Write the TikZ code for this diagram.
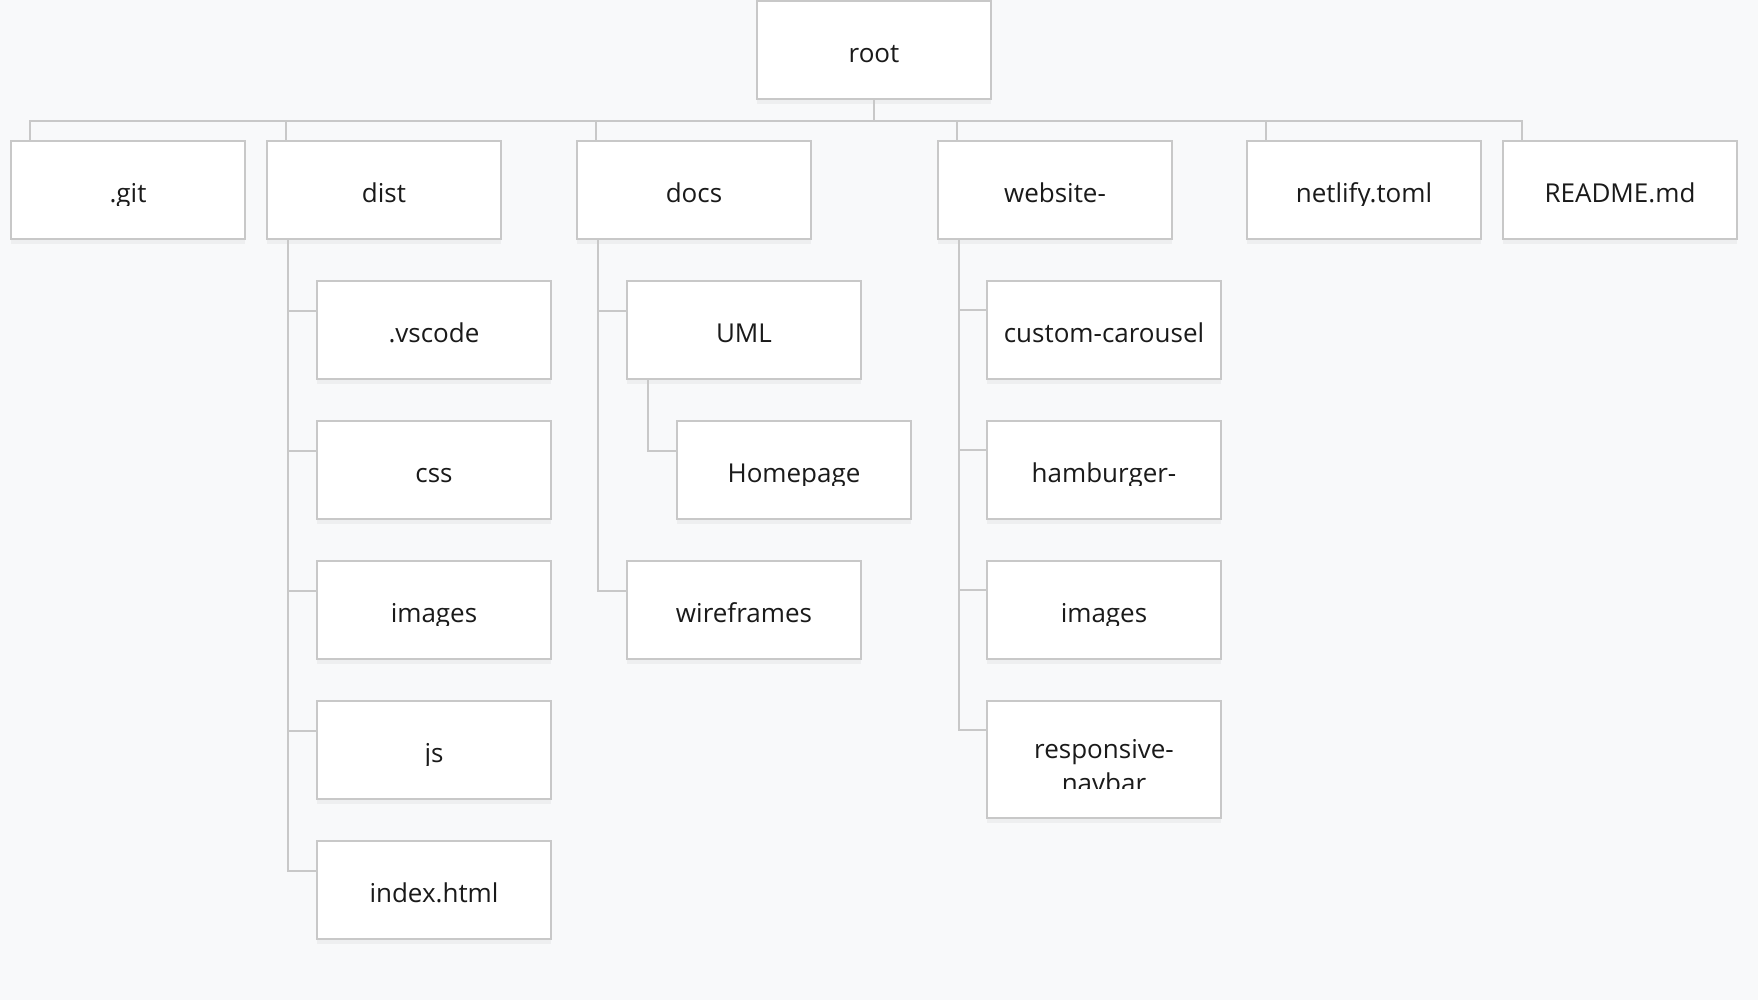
\documentclass[tikz,border=0pt]{standalone}
\usepackage{fontspec}
\setmainfont{Open Sans}
\usetikzlibrary{shadows}
\definecolor{paper}{HTML}{F8F9FA}
\definecolor{edge}{HTML}{C8C8C8}
\definecolor{ink}{HTML}{1A1A1A}
\newcommand{\boxfont}{\fontsize{13}{17}\selectfont}
\tikzstyle{folder} = [rectangle, draw=edge, line width=1pt, fill=white,
	minimum width=117pt, minimum height=49pt,
	drop shadow={shadow xshift=0pt, shadow yshift=-2.5pt, opacity=.08}]
\tikzstyle{label} = [text=ink, font=\boxfont, inner sep=0pt, align=center]
\tikzstyle{link} = [draw=edge, line width=1pt]
\newcommand{\fold}[3]{\node [folder] (#1) at (#2) {};
	\begin{scope}
		\clip ([yshift=-7.75pt]#1.west) rectangle (#1.north east);
		\node [label, anchor=base] (#1txt) at ([yshift=-6.25pt]#1.center) {#3};
	\end{scope}}

\begin{document}
\begin{tikzpicture}[x=.5pt, y=-.5pt]
			\useasboundingbox (0,0) rectangle (1758,1000);
			\fill[paper] (0,0) rectangle (1758,1000);
			\fold{root}{874,50}{root}
			\fold{git}{128,190}{.git}
			\fold{dist}{384,190}{dist}
			\fold{docs}{694,190}{docs}
			\fold{web}{1055,190}{website-}
			\fold{netlify}{1364,190}{netlify.toml}
			\fold{readme}{1620,190}{README.md}
			\fold{vscode}{434,330}{.vscode}
			\fold{css}{434,470}{css}
			\fold{distimg}{434,610}{images}
			\fold{js}{434,750}{js}
			\fold{index}{434,890}{index.html}
			\fold{uml}{744,330}{UML}
			\fold{home}{794,470}{Homepage}
			\fold{wire}{744,610}{wireframes}
			\fold{carousel}{1104,330}{custom-carousel}
			\fold{burger}{1104,470}{hamburger-}
			\fold{webimg}{1104,610}{images}
			\node [folder, minimum height=58.5pt] (resp) at (1104,759.5) {};
			\coordinate (cut) at (0,788);
			\begin{scope}
				\clip (resp.north west) rectangle (resp.east |- cut);
				\node [label, anchor=base] (resptxt) at (1104,792) {responsive-\\navbar};
			\end{scope}
			\coordinate (bus) at (0,121);
			\foreach \n in {git,dist,docs,web,netlify,readme}
				\draw[link] (root.south) -- (root.south |- bus) -| ([xshift=10pt]\n.north west);
			\foreach \n in {vscode,css,distimg,js,index}
				\draw[link] ([xshift=11pt]dist.south west) |- ([yshift=-15.5pt]\n.north west);
			\foreach \n in {uml,wire}
				\draw[link] ([xshift=11pt]docs.south west) |- ([yshift=-15.5pt]\n.north west);
			\draw[link] ([xshift=11pt]uml.south west) |- ([yshift=-15.5pt]home.north west);
			\foreach \n in {carousel,burger,webimg,resp}
				\draw[link] ([xshift=11pt]web.south west) |- ([yshift=-15pt]\n.north west);
		\end{tikzpicture}
\end{document}
